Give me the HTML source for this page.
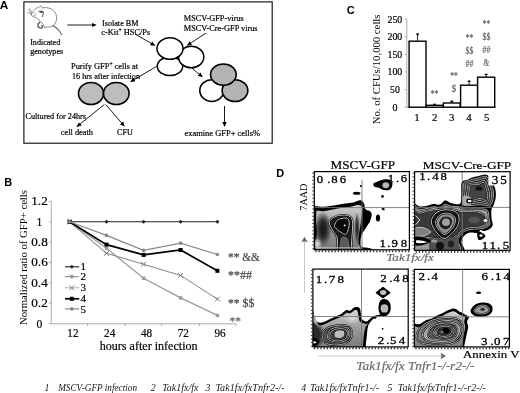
<!DOCTYPE html>
<html><head><meta charset="utf-8"><style>
html,body{margin:0;padding:0;background:#fff;}
svg{display:block;filter:grayscale(1);}
</style></head><body>
<svg width="520" height="393" viewBox="0 0 520 393">
<defs>
<marker id="ah" markerWidth="6" markerHeight="6" refX="4" refY="3" orient="auto" markerUnits="userSpaceOnUse"><path d="M0,0.8 L5,3 L0,5.2 Z" fill="#000"/></marker>
<marker id="ahg" markerWidth="8" markerHeight="8" refX="5" refY="4" orient="auto" markerUnits="userSpaceOnUse"><path d="M0.5,0.8 L6,4 L0.5,7.2 L1.5,4 Z" fill="#666"/></marker>
</defs>
<rect width="520" height="393" fill="#fff"/>
<text x="-0.3" y="8.8" font-family="Liberation Sans" font-size="11.8" fill="#000" font-weight="bold" >A</text>
<rect x="23.9" y="1.9" width="248.3" height="141.3" fill="none" stroke="#111" stroke-width="1.15"/>
<g fill="none" stroke="#7a7a7a" stroke-width="0.9" stroke-linecap="round" stroke-linejoin="round">
<path d="M31.5 14.2 C32.5 11.5 34.5 9 37.5 7.6 C39 7 40 6.6 41 5.8 C41.6 6.4 42 7.3 42.5 8 C45.5 7.2 49.5 7.6 52.5 9.6 C55.6 11.8 57 15.5 56.6 19.4 C56.2 22.3 54.6 24.3 53.2 25.6 C50.5 27.2 47.5 27.6 44.6 27.2"/>
<path d="M31.5 14.2 C31 15.4 32 16.6 33.5 16.7 C35.5 17 37 18.4 38.5 19.6 C40.2 21 41.6 22.6 43.2 24.2 C44 25.2 44.5 26.4 44.6 27.2"/>
<path d="M39 11.8 C40.4 10.8 42.6 10.8 43.3 12.2 C43.8 13.6 42.8 15 42.2 16.6" stroke="#666" stroke-width="1.1"/><path d="M40.5 12 L42.2 12.4" stroke="#444" stroke-width="1.3"/><path d="M34.2 13.2 L35.4 13" stroke="#999" stroke-width="0.8"/>
<path d="M39.6 22.4 C38.2 23.2 37.8 25.2 38.2 26.6 C38.8 28 40.6 28.4 42 27.8 C43 27.2 42.6 26.2 41.8 25.6" stroke="#555" stroke-width="1.4"/>
<path d="M53.2 25.6 C56 27.2 58.5 29.8 60 32 C60.8 33.2 61.3 34 61.6 34.8" stroke-width="1.3"/>
<path d="M28.5 9.5 L31.4 13.4 M27.6 12.6 L31.2 13.8 M29.8 8.6 L31.8 12.8" stroke-width="0.7"/>
<path d="M33.6 15.6 C34.6 15.8 35.4 15.4 35.8 14.8" stroke-width="0.7"/>
</g>
<text x="30.2" y="45.2" font-family="Liberation Serif" font-size="8.4" fill="#000" stroke="#000" stroke-width="0.2" textLength="30" lengthAdjust="spacingAndGlyphs" >Indicated</text>
<text x="30.2" y="54.1" font-family="Liberation Serif" font-size="8.4" fill="#000" stroke="#000" stroke-width="0.2" textLength="33" lengthAdjust="spacingAndGlyphs" >genotypes</text>
<line x1="67.3" y1="25" x2="95.5" y2="25" stroke="#000" stroke-width="0.9" marker-end="url(#ah)" />
<text x="102" y="25.8" font-family="Liberation Serif" font-size="8.4" fill="#000" stroke="#000" stroke-width="0.2" textLength="36.5" lengthAdjust="spacingAndGlyphs" >Isolate BM</text>
<text x="101.3" y="34.8" font-family="Liberation Serif" font-size="8.4" stroke="#000" stroke-width="0.2">c-Kit<tspan font-size="5.5" dy="-3">+</tspan><tspan dy="3"> HSC/Ps</tspan></text>
<text x="183.8" y="21.1" font-family="Liberation Serif" font-size="8.4" fill="#000" stroke="#000" stroke-width="0.2" textLength="60" lengthAdjust="spacingAndGlyphs" >MSCV-GFP-virus</text>
<text x="183.8" y="30.8" font-family="Liberation Serif" font-size="8.4" fill="#000" stroke="#000" stroke-width="0.2" textLength="73.8" lengthAdjust="spacingAndGlyphs" >MSCV-Cre-GFP virus</text>
<line x1="135" y1="34" x2="154.5" y2="45.3" stroke="#000" stroke-width="0.9" marker-end="url(#ah)" />
<line x1="206" y1="33" x2="187.5" y2="45.2" stroke="#000" stroke-width="0.9" marker-end="url(#ah)" />
<ellipse cx="170" cy="66.2" rx="12.7" ry="9.4" fill="#fff" stroke="#000" stroke-width="1.5"/>
<ellipse cx="191.2" cy="57" rx="12.6" ry="10.8" fill="#fff" stroke="#000" stroke-width="1.5"/>
<ellipse cx="170" cy="48.5" rx="13" ry="10.8" fill="#fff" stroke="#000" stroke-width="1.5"/>
<line x1="191.5" y1="67.7" x2="202" y2="76.7" stroke="#000" stroke-width="0.9" marker-end="url(#ah)" />
<line x1="157.5" y1="65.8" x2="131" y2="81.5" stroke="#000" stroke-width="0.9" marker-end="url(#ah)" />
<text x="71" y="69.1" font-family="Liberation Serif" font-size="8.4" stroke="#000" stroke-width="0.2">Purify GFP<tspan font-size="5.5" dy="-3">+</tspan><tspan dy="3"> cells at</tspan></text>
<text x="72" y="78.5" font-family="Liberation Serif" font-size="8.4" fill="#000" stroke="#000" stroke-width="0.2" textLength="68" lengthAdjust="spacingAndGlyphs" >16 hrs after infection</text>
<ellipse cx="91" cy="93.5" rx="12.5" ry="11" fill="#bdbdbd" stroke="#000" stroke-width="1.6"/>
<ellipse cx="116.3" cy="93.5" rx="12.8" ry="11" fill="#bdbdbd" stroke="#000" stroke-width="1.6"/>
<line x1="104.4" y1="104.5" x2="77.2" y2="126.4" stroke="#000" stroke-width="0.9" marker-end="url(#ah)" />
<line x1="105.8" y1="104.5" x2="124" y2="125.8" stroke="#000" stroke-width="0.9" marker-end="url(#ah)" />
<text x="25.5" y="118.8" font-family="Liberation Serif" font-size="8.4" fill="#000" stroke="#000" stroke-width="0.2" textLength="60.5" lengthAdjust="spacingAndGlyphs" >Cultured for 24hrs</text>
<text x="60.8" y="134.8" font-family="Liberation Serif" font-size="8.4" fill="#000" stroke="#000" stroke-width="0.2" textLength="32.2" lengthAdjust="spacingAndGlyphs" >cell death</text>
<text x="117" y="134.8" font-family="Liberation Serif" font-size="8.4" fill="#000" stroke="#000" stroke-width="0.2" textLength="15.8" lengthAdjust="spacingAndGlyphs" >CFU</text>
<ellipse cx="211.8" cy="90.6" rx="12" ry="10.85" fill="#fff" stroke="#000" stroke-width="1.6"/>
<ellipse cx="235" cy="90.6" rx="12.85" ry="10.85" fill="#b3b3b3" stroke="#000" stroke-width="1.6"/>
<ellipse cx="223.4" cy="74.6" rx="12.85" ry="10.6" fill="#b3b3b3" stroke="#000" stroke-width="1.6"/>
<line x1="224.5" y1="106" x2="224.5" y2="126" stroke="#000" stroke-width="0.9" marker-end="url(#ah)" />
<text x="184.5" y="135.8" font-family="Liberation Serif" font-size="8.4" fill="#000" stroke="#000" stroke-width="0.2" textLength="75.5" lengthAdjust="spacingAndGlyphs" >examine  GFP+ cells%</text>
<text x="346.7" y="13.5" font-family="Liberation Sans" font-size="11" fill="#000" font-weight="bold" >C</text>
<line x1="406.8" y1="19" x2="406.8" y2="107.2" stroke="#999" stroke-width="0.8"/>
<line x1="406.8" y1="107.2" x2="496" y2="107.2" stroke="#888" stroke-width="0.9"/>
<line x1="404.6" y1="107.2" x2="406.8" y2="107.2" stroke="#999" stroke-width="0.8"/>
<text x="394.9" y="110.7" font-family="Liberation Serif" font-size="10.4" fill="#000" stroke="#000" stroke-width="0.2" text-anchor="middle" textLength="5" lengthAdjust="spacingAndGlyphs" >0</text>
<line x1="404.6" y1="89.6" x2="406.8" y2="89.6" stroke="#999" stroke-width="0.8"/>
<text x="394.9" y="93.1" font-family="Liberation Serif" font-size="10.4" fill="#000" stroke="#000" stroke-width="0.2" text-anchor="middle" textLength="9.8" lengthAdjust="spacingAndGlyphs" >50</text>
<line x1="404.6" y1="71.9" x2="406.8" y2="71.9" stroke="#999" stroke-width="0.8"/>
<text x="394.9" y="75.4" font-family="Liberation Serif" font-size="10.4" fill="#000" stroke="#000" stroke-width="0.2" text-anchor="middle" textLength="14.9" lengthAdjust="spacingAndGlyphs" >100</text>
<line x1="404.6" y1="54.3" x2="406.8" y2="54.3" stroke="#999" stroke-width="0.8"/>
<text x="394.9" y="57.8" font-family="Liberation Serif" font-size="10.4" fill="#000" stroke="#000" stroke-width="0.2" text-anchor="middle" textLength="14.9" lengthAdjust="spacingAndGlyphs" >150</text>
<line x1="404.6" y1="36.6" x2="406.8" y2="36.6" stroke="#999" stroke-width="0.8"/>
<text x="394.9" y="40.1" font-family="Liberation Serif" font-size="10.4" fill="#000" stroke="#000" stroke-width="0.2" text-anchor="middle" textLength="14.9" lengthAdjust="spacingAndGlyphs" >200</text>
<line x1="404.6" y1="19.0" x2="406.8" y2="19.0" stroke="#999" stroke-width="0.8"/>
<text x="394.9" y="22.5" font-family="Liberation Serif" font-size="10.4" fill="#000" stroke="#000" stroke-width="0.2" text-anchor="middle" textLength="14.9" lengthAdjust="spacingAndGlyphs" >250</text>
<line x1="417.6" y1="34.1" x2="417.6" y2="41.2" stroke="#000" stroke-width="0.9"/>
<line x1="416.2" y1="34.1" x2="418.9" y2="34.1" stroke="#000" stroke-width="1.4"/>
<rect x="409.1" y="41.2" width="16.9" height="66.0" fill="#fff" stroke="#000" stroke-width="1.4"/>
<line x1="434.5" y1="104.4" x2="434.5" y2="105.3" stroke="#000" stroke-width="0.9"/>
<line x1="433.1" y1="104.4" x2="435.9" y2="104.4" stroke="#000" stroke-width="1.4"/>
<rect x="426" y="105.3" width="17.0" height="1.9" fill="#fff" stroke="#000" stroke-width="1.4"/>
<line x1="451.8" y1="101.3" x2="451.8" y2="103.0" stroke="#000" stroke-width="0.9"/>
<line x1="450.4" y1="101.3" x2="453.2" y2="101.3" stroke="#000" stroke-width="1.4"/>
<rect x="443.4" y="103.0" width="16.8" height="4.2" fill="#fff" stroke="#000" stroke-width="1.4"/>
<line x1="469.1" y1="81.2" x2="469.1" y2="85.2" stroke="#000" stroke-width="0.9"/>
<line x1="467.7" y1="81.2" x2="470.5" y2="81.2" stroke="#000" stroke-width="1.4"/>
<rect x="460.6" y="85.2" width="17.0" height="22.0" fill="#fff" stroke="#000" stroke-width="1.4"/>
<line x1="486.1" y1="74.4" x2="486.1" y2="77.2" stroke="#000" stroke-width="0.9"/>
<line x1="484.8" y1="74.4" x2="487.5" y2="74.4" stroke="#000" stroke-width="1.4"/>
<rect x="477.6" y="77.2" width="17.1" height="30.0" fill="#fff" stroke="#000" stroke-width="1.4"/>
<text x="416.9" y="120.6" font-family="Liberation Serif" font-size="10.8" fill="#000" stroke="#000" stroke-width="0.2" text-anchor="middle" >1</text>
<text x="434.6" y="120.6" font-family="Liberation Serif" font-size="10.8" fill="#000" stroke="#000" stroke-width="0.2" text-anchor="middle" >2</text>
<text x="451.6" y="120.6" font-family="Liberation Serif" font-size="10.8" fill="#000" stroke="#000" stroke-width="0.2" text-anchor="middle" >3</text>
<text x="468.9" y="120.6" font-family="Liberation Serif" font-size="10.8" fill="#000" stroke="#000" stroke-width="0.2" text-anchor="middle" >4</text>
<text x="486.8" y="120.6" font-family="Liberation Serif" font-size="10.8" fill="#000" stroke="#000" stroke-width="0.2" text-anchor="middle" >5</text>
<text transform="translate(380.3,69.4) rotate(-90)" font-family="Liberation Serif" font-size="10.4" text-anchor="middle" textLength="109.8" lengthAdjust="spacingAndGlyphs">No. of CFUs/10,000 cells</text>
<text x="430.8" y="97.4" font-family="Liberation Serif" font-size="10" fill="#666" stroke="#666" stroke-width="0.2" textLength="7.6" lengthAdjust="spacingAndGlyphs" >**</text>
<text x="450.2" y="79.10000000000001" font-family="Liberation Serif" font-size="10" fill="#666" stroke="#666" stroke-width="0.2" textLength="7.6" lengthAdjust="spacingAndGlyphs" >**</text>
<text x="451.8" y="92.2" font-family="Liberation Serif" font-size="10" fill="#666" stroke="#666" stroke-width="0.2" textLength="4.4" lengthAdjust="spacingAndGlyphs" >$</text>
<text x="465.7" y="41.1" font-family="Liberation Serif" font-size="10" fill="#666" stroke="#666" stroke-width="0.2" textLength="7.6" lengthAdjust="spacingAndGlyphs" >**</text>
<text x="465.6" y="54.0" font-family="Liberation Serif" font-size="10" fill="#666" stroke="#666" stroke-width="0.2" textLength="7.8" lengthAdjust="spacingAndGlyphs" >$$</text>
<text x="465.6" y="66.7" font-family="Liberation Serif" font-size="10" fill="#666" stroke="#666" stroke-width="0.2" textLength="7.8" lengthAdjust="spacingAndGlyphs" >##</text>
<text x="482.6" y="27.299999999999997" font-family="Liberation Serif" font-size="10" fill="#666" stroke="#666" stroke-width="0.2" textLength="7.6" lengthAdjust="spacingAndGlyphs" >**</text>
<text x="482.5" y="39.9" font-family="Liberation Serif" font-size="10" fill="#666" stroke="#666" stroke-width="0.2" textLength="7.8" lengthAdjust="spacingAndGlyphs" >$$</text>
<text x="482.5" y="53.1" font-family="Liberation Serif" font-size="10" fill="#666" stroke="#666" stroke-width="0.2" textLength="7.8" lengthAdjust="spacingAndGlyphs" >##</text>
<text x="483.6" y="66.4" font-family="Liberation Serif" font-size="10" fill="#666" stroke="#666" stroke-width="0.2" textLength="5.8" lengthAdjust="spacingAndGlyphs" >&amp;</text>
<text x="4.2" y="186.3" font-family="Liberation Sans" font-size="11" fill="#000" font-weight="bold" >B</text>
<line x1="51.3" y1="201.4" x2="51.3" y2="323.8" stroke="#999" stroke-width="0.8"/>
<line x1="51.3" y1="323.8" x2="236" y2="323.8" stroke="#999" stroke-width="0.8"/>
<line x1="48.8" y1="323.5" x2="51.3" y2="323.5" stroke="#999" stroke-width="0.8"/>
<text x="39.5" y="327.5" font-family="Liberation Serif" font-size="12" fill="#000" stroke="#000" stroke-width="0.2" text-anchor="middle" textLength="5.8" lengthAdjust="spacingAndGlyphs" >0</text>
<line x1="48.8" y1="303.1" x2="51.3" y2="303.1" stroke="#999" stroke-width="0.8"/>
<text x="39.5" y="307.1" font-family="Liberation Serif" font-size="12" fill="#000" stroke="#000" stroke-width="0.2" text-anchor="middle" textLength="16.4" lengthAdjust="spacingAndGlyphs" >0.2</text>
<line x1="48.8" y1="282.8" x2="51.3" y2="282.8" stroke="#999" stroke-width="0.8"/>
<text x="39.5" y="286.8" font-family="Liberation Serif" font-size="12" fill="#000" stroke="#000" stroke-width="0.2" text-anchor="middle" textLength="16.4" lengthAdjust="spacingAndGlyphs" >0.4</text>
<line x1="48.8" y1="262.4" x2="51.3" y2="262.4" stroke="#999" stroke-width="0.8"/>
<text x="39.5" y="266.4" font-family="Liberation Serif" font-size="12" fill="#000" stroke="#000" stroke-width="0.2" text-anchor="middle" textLength="16.4" lengthAdjust="spacingAndGlyphs" >0.6</text>
<line x1="48.8" y1="242.1" x2="51.3" y2="242.1" stroke="#999" stroke-width="0.8"/>
<text x="39.5" y="246.1" font-family="Liberation Serif" font-size="12" fill="#000" stroke="#000" stroke-width="0.2" text-anchor="middle" textLength="16.4" lengthAdjust="spacingAndGlyphs" >0.8</text>
<line x1="48.8" y1="221.8" x2="51.3" y2="221.8" stroke="#999" stroke-width="0.8"/>
<text x="39.5" y="225.8" font-family="Liberation Serif" font-size="12" fill="#000" stroke="#000" stroke-width="0.2" text-anchor="middle" textLength="5.8" lengthAdjust="spacingAndGlyphs" >1</text>
<line x1="48.8" y1="201.4" x2="51.3" y2="201.4" stroke="#999" stroke-width="0.8"/>
<text x="39.5" y="205.4" font-family="Liberation Serif" font-size="12" fill="#000" stroke="#000" stroke-width="0.2" text-anchor="middle" textLength="16.4" lengthAdjust="spacingAndGlyphs" >1.2</text>
<line x1="87.7" y1="323.8" x2="87.7" y2="326" stroke="#999" stroke-width="0.8"/>
<line x1="125.2" y1="323.8" x2="125.2" y2="326" stroke="#999" stroke-width="0.8"/>
<line x1="161.7" y1="323.8" x2="161.7" y2="326" stroke="#999" stroke-width="0.8"/>
<line x1="199.4" y1="323.8" x2="199.4" y2="326" stroke="#999" stroke-width="0.8"/>
<line x1="236" y1="323.8" x2="236" y2="326" stroke="#999" stroke-width="0.8"/>
<text x="72.9" y="336.9" font-family="Liberation Serif" font-size="12.4" fill="#000" stroke="#000" stroke-width="0.2" text-anchor="middle" textLength="11.2" lengthAdjust="spacingAndGlyphs" >12</text>
<text x="109.7" y="336.9" font-family="Liberation Serif" font-size="12.4" fill="#000" stroke="#000" stroke-width="0.2" text-anchor="middle" textLength="11.2" lengthAdjust="spacingAndGlyphs" >24</text>
<text x="146.5" y="336.9" font-family="Liberation Serif" font-size="12.4" fill="#000" stroke="#000" stroke-width="0.2" text-anchor="middle" textLength="11.2" lengthAdjust="spacingAndGlyphs" >48</text>
<text x="183.3" y="336.9" font-family="Liberation Serif" font-size="12.4" fill="#000" stroke="#000" stroke-width="0.2" text-anchor="middle" textLength="11.2" lengthAdjust="spacingAndGlyphs" >72</text>
<text x="220.1" y="336.9" font-family="Liberation Serif" font-size="12.4" fill="#000" stroke="#000" stroke-width="0.2" text-anchor="middle" textLength="11.2" lengthAdjust="spacingAndGlyphs" >96</text>
<text x="99.7" y="350.1" font-family="Liberation Serif" font-size="12.5" fill="#000" stroke="#000" stroke-width="0.2" textLength="97.9" lengthAdjust="spacingAndGlyphs" >hours after infection</text>
<text transform="translate(26.5,257.5) rotate(-90)" font-family="Liberation Serif" font-size="9.4" text-anchor="middle" textLength="135" lengthAdjust="spacingAndGlyphs">Normalized ratio of GFP+ cells</text>
<polyline points="69.6,221.8 106.5,221.8 143.6,221.8 180.6,221.8 217.4,221.8" fill="none" stroke="#222" stroke-width="1.1"/>
<path d="M69.6 219.8L71.6 221.8L69.6 223.8L67.6 221.8Z" fill="#222"/>
<path d="M106.5 219.8L108.5 221.8L106.5 223.8L104.5 221.8Z" fill="#222"/>
<path d="M143.6 219.8L145.6 221.8L143.6 223.8L141.6 221.8Z" fill="#222"/>
<path d="M180.6 219.8L182.6 221.8L180.6 223.8L178.6 221.8Z" fill="#222"/>
<path d="M217.4 219.8L219.4 221.8L217.4 223.8L215.4 221.8Z" fill="#222"/>
<polyline points="69.6,221.8 106.5,248.2 143.6,278.2 180.6,297.9 217.4,315.4" fill="none" stroke="#999" stroke-width="1.2"/>
<rect x="67.89999999999999" y="220.10000000000002" width="3.4" height="3.4" fill="#999"/>
<rect x="104.8" y="246.5" width="3.4" height="3.4" fill="#999"/>
<rect x="141.9" y="276.5" width="3.4" height="3.4" fill="#999"/>
<rect x="178.9" y="296.2" width="3.4" height="3.4" fill="#999"/>
<rect x="215.70000000000002" y="313.7" width="3.4" height="3.4" fill="#999"/>
<polyline points="69.6,221.8 106.5,253.3 143.6,264.2 180.6,275.4 217.4,299.1" fill="none" stroke="#8c8c8c" stroke-width="1.1"/>
<path d="M67.19999999999999 219.4L72.0 224.20000000000002M67.19999999999999 224.20000000000002L72.0 219.4" stroke="#777" stroke-width="1"/>
<path d="M104.1 250.9L108.9 255.70000000000002M104.1 255.70000000000002L108.9 250.9" stroke="#777" stroke-width="1"/>
<path d="M141.2 261.8L146.0 266.59999999999997M141.2 266.59999999999997L146.0 261.8" stroke="#777" stroke-width="1"/>
<path d="M178.2 273.0L183.0 277.79999999999995M178.2 277.79999999999995L183.0 273.0" stroke="#777" stroke-width="1"/>
<path d="M215.0 296.70000000000005L219.8 301.5M215.0 301.5L219.8 296.70000000000005" stroke="#777" stroke-width="1"/>
<polyline points="69.6,221.8 106.5,244.6 143.6,254.9 180.6,250.0 217.4,270.8" fill="none" stroke="#000" stroke-width="1.7"/>
<rect x="67.6" y="219.8" width="4" height="4" fill="#000"/>
<rect x="104.5" y="242.6" width="4" height="4" fill="#000"/>
<rect x="141.6" y="252.9" width="4" height="4" fill="#000"/>
<rect x="178.6" y="248.0" width="4" height="4" fill="#000"/>
<rect x="215.4" y="268.8" width="4" height="4" fill="#000"/>
<polyline points="69.6,221.8 106.5,235.4 143.6,250.4 180.6,243.1 217.4,254.5" fill="none" stroke="#888" stroke-width="1.2"/>
<circle cx="69.6" cy="221.8" r="1.8" fill="#888"/>
<circle cx="106.5" cy="235.4" r="1.8" fill="#888"/>
<circle cx="143.6" cy="250.4" r="1.8" fill="#888"/>
<circle cx="180.6" cy="243.1" r="1.8" fill="#888"/>
<circle cx="217.4" cy="254.5" r="1.8" fill="#888"/>
<line x1="65" y1="266.8" x2="79.2" y2="266.8" stroke="#222" stroke-width="1.1"/>
<path d="M71.8 264.8L73.8 266.8L71.8 268.8L69.8 266.8Z" fill="#222"/>
<text x="80.4" y="270.4" font-family="Liberation Serif" font-size="11" fill="#000" stroke="#000" stroke-width="0.2" >1</text>
<line x1="65" y1="276.6" x2="79.2" y2="276.6" stroke="#999" stroke-width="1.2"/>
<rect x="70.1" y="274.90000000000003" width="3.4" height="3.4" fill="#999"/>
<text x="80.4" y="280.2" font-family="Liberation Serif" font-size="11" fill="#000" stroke="#000" stroke-width="0.2" >2</text>
<line x1="65" y1="287.8" x2="79.2" y2="287.8" stroke="#8c8c8c" stroke-width="1.1" stroke-dasharray="2,1.2"/>
<path d="M69.39999999999999 285.40000000000003L74.2 290.2M69.39999999999999 290.2L74.2 285.40000000000003" stroke="#777" stroke-width="1"/>
<text x="80.4" y="291.4" font-family="Liberation Serif" font-size="11" fill="#000" stroke="#000" stroke-width="0.2" >3</text>
<line x1="65" y1="298.8" x2="79.2" y2="298.8" stroke="#000" stroke-width="1.7"/>
<rect x="69.8" y="296.8" width="4" height="4" fill="#000"/>
<text x="80.4" y="302.4" font-family="Liberation Serif" font-size="11" fill="#000" stroke="#000" stroke-width="0.2" >4</text>
<line x1="65" y1="308.9" x2="79.2" y2="308.9" stroke="#888" stroke-width="1.2"/>
<circle cx="71.8" cy="308.9" r="1.8" fill="#888"/>
<text x="80.4" y="312.5" font-family="Liberation Serif" font-size="11" fill="#000" stroke="#000" stroke-width="0.2" >5</text>
<text x="228" y="260.6" font-family="Liberation Serif" font-size="12.6" fill="#444" stroke="#444" stroke-width="0.2" textLength="32" lengthAdjust="spacingAndGlyphs" >** &amp;&amp;</text>
<text x="228" y="279.3" font-family="Liberation Serif" font-size="12.6" fill="#444" stroke="#444" stroke-width="0.2" textLength="24" lengthAdjust="spacingAndGlyphs" >**##</text>
<text x="228" y="306.8" font-family="Liberation Serif" font-size="12.6" fill="#444" stroke="#444" stroke-width="0.2" textLength="26.3" lengthAdjust="spacingAndGlyphs" >** $$</text>
<text x="229.6" y="325.2" font-family="Liberation Serif" font-size="12.6" fill="#666" stroke="#666" stroke-width="0.2" textLength="11.4" lengthAdjust="spacingAndGlyphs" >**</text>
<text x="276.3" y="177" font-family="Liberation Sans" font-size="11" fill="#000" font-weight="bold" >D</text>
<text x="330.6" y="168.5" font-family="Liberation Serif" font-size="11.6" fill="#000" stroke="#000" stroke-width="0.2" textLength="64.4" lengthAdjust="spacingAndGlyphs" >MSCV-GFP</text>
<text x="422.7" y="168.8" font-family="Liberation Serif" font-size="11" fill="#000" stroke="#000" stroke-width="0.2" textLength="88.5" lengthAdjust="spacingAndGlyphs" >MSCV-Cre-GFP</text>
<text transform="translate(306.6,210.7) rotate(-90)" font-family="Liberation Serif" font-size="10.9" textLength="27.1" lengthAdjust="spacingAndGlyphs">7AAD</text>
<text x="386.3" y="260.7" font-family="Liberation Serif" font-size="11.3" fill="#6a6a6a" stroke="#6a6a6a" stroke-width="0.2" textLength="47.4" lengthAdjust="spacingAndGlyphs" font-style="italic" >Tak1fx/fx</text>
<text x="356.3" y="369.5" font-family="Liberation Serif" font-size="12" fill="#6a6a6a" stroke="#6a6a6a" stroke-width="0.2" textLength="118.2" lengthAdjust="spacingAndGlyphs" font-style="italic" >Tak1fx/fx Tnfr1-/-r2-/-</text>
<text x="463.1" y="358.1" font-family="Liberation Serif" font-size="11.3" fill="#000" stroke="#000" stroke-width="0.2" textLength="56.3" lengthAdjust="spacingAndGlyphs" >Annexin V</text>
<line x1="304.5" y1="293" x2="304.5" y2="237.8" stroke="#c8c8c8" stroke-width="1" marker-end="url(#ahg)"/>
<line x1="318.4" y1="356" x2="445" y2="356" stroke="#c8c8c8" stroke-width="1" marker-end="url(#ahg)"/>
<defs>
<clipPath id="c0"><rect x="314.3" y="171.6" width="95.1" height="78.2"/></clipPath>
<clipPath id="c1"><rect x="414.6" y="171.7" width="95.5" height="78.6"/></clipPath>
<clipPath id="c2"><rect x="312.9" y="269.1" width="95.3" height="77.8"/></clipPath>
<clipPath id="c3"><rect x="414.3" y="269.4" width="95.1" height="77.5"/></clipPath>
<radialGradient id="dk" cx="0.5" cy="0.5" r="0.5"><stop offset="0" stop-color="#1a1a1a"/><stop offset="0.6" stop-color="#1a1a1a" stop-opacity="0.6"/><stop offset="1" stop-color="#1a1a1a" stop-opacity="0"/></radialGradient>
<radialGradient id="lt" cx="0.5" cy="0.5" r="0.5"><stop offset="0" stop-color="#e0e0e0"/><stop offset="0.6" stop-color="#d0d0d0" stop-opacity="0.6"/><stop offset="1" stop-color="#d0d0d0" stop-opacity="0"/></radialGradient>
<linearGradient id="topl" x1="0" y1="0" x2="0" y2="1"><stop offset="0" stop-color="#d4d4d4"/><stop offset="0.35" stop-color="#a0a0a0"/><stop offset="1" stop-color="#707070"/></linearGradient>

</defs>
<g clip-path="url(#c0)">
<path d="M312.0,206.6 C312.7,199.0 314.2,206.2 316.0,206.2 C317.8,206.2 320.2,206.9 322.8,206.8 C325.4,206.7 328.2,206.3 331.4,205.8 C334.6,205.3 338.5,204.5 342.1,204.0 C345.7,203.5 350.5,203.0 352.8,202.6 C355.1,202.2 354.6,201.8 356.0,201.4 C357.4,201.0 359.9,200.1 361.2,200.4 C362.5,200.7 363.3,202.0 364.0,203.4 C364.7,204.8 364.5,207.7 365.4,209.0 C366.3,210.3 368.6,210.3 369.6,211.1 C370.7,211.9 371.5,212.8 371.7,213.9 C371.9,215.1 371.4,216.6 371.0,218.0 C370.6,219.4 370.3,220.9 369.6,222.3 C368.9,223.7 367.7,225.1 366.8,226.5 C365.9,227.9 364.8,229.5 364.0,230.7 C363.2,231.9 362.7,232.4 362.2,233.5 C361.7,234.6 361.3,235.5 361.0,237.0 C360.7,238.5 360.5,241.0 360.5,242.6 C360.5,244.2 360.4,245.9 361.2,246.7 C362.0,247.5 363.5,247.2 365.4,247.6 C367.3,248.0 370.6,248.3 372.4,249.0 C374.2,249.7 386.1,251.5 376.0,252.0 C365.9,252.5 322.7,259.6 312.0,252.0 C301.3,244.4 311.3,214.2 312.0,206.6Z" fill="#000"/>
<path d="M312.0,210.8 C312.7,203.9 314.2,210.5 316.0,210.6 C317.8,210.7 320.2,211.3 322.8,211.2 C325.4,211.1 328.2,210.4 331.4,209.8 C334.6,209.2 338.5,208.4 342.1,207.8 C345.7,207.2 350.3,206.7 352.8,206.2 C355.3,205.7 355.7,205.1 357.0,205.0 C358.3,204.9 359.7,204.9 360.6,205.6 C361.5,206.3 362.0,207.4 362.2,209.0 C362.4,210.6 362.2,212.8 362.0,215.0 C361.8,217.2 361.4,219.7 361.0,222.0 C360.6,224.3 360.2,226.7 359.8,229.0 C359.4,231.3 359.0,233.7 358.8,236.0 C358.6,238.3 358.4,240.3 358.4,243.0 C358.4,245.7 366.3,250.5 358.6,252.0 C350.9,253.5 319.8,258.9 312.0,252.0 C304.2,245.1 311.3,217.7 312.0,210.8Z" fill="url(#topl)"/>
<ellipse cx="323" cy="229" rx="9" ry="18" fill="url(#dk)"/>
<ellipse cx="323" cy="229" rx="5" ry="12" fill="url(#dk)"/>
<path d="M313 209 L316.4 210 L316 220 L316.8 232 L315.8 244 L316.5 252 L313 252 Z" fill="#000"/>
<ellipse cx="357" cy="228" rx="2.5" ry="16" fill="url(#dk)"/>
<ellipse cx="317" cy="244" rx="5" ry="6" fill="url(#lt)"/>
<path d="M338.5,253.0 C336.2,250.6 338.1,241.9 337.3,238.3 C336.5,234.7 334.8,233.9 333.5,231.5 C332.2,229.1 329.9,226.0 329.5,224.0 C329.1,222.0 330.1,220.7 331.0,219.5 C331.9,218.3 333.6,217.5 335.0,216.8 C336.4,216.1 337.5,215.6 339.6,215.4 C341.7,215.2 345.3,214.8 347.4,215.4 C349.4,216.0 351.0,217.1 351.9,219.0 C352.8,220.9 352.6,224.2 352.6,227.0 C352.6,229.8 352.2,233.2 352.0,236.0 C351.8,238.8 351.6,241.2 351.4,244.0 C351.2,246.8 353.1,251.5 351.0,253.0 C348.9,254.5 340.8,255.4 338.5,253.0Z" fill="#1c1c1c" stroke="#000" stroke-width="2.00" />
<path d="M338.5,253.0 C336.2,250.6 338.1,241.9 337.3,238.3 C336.5,234.7 334.8,233.9 333.5,231.5 C332.2,229.1 329.9,226.0 329.5,224.0 C329.1,222.0 330.1,220.7 331.0,219.5 C331.9,218.3 333.6,217.5 335.0,216.8 C336.4,216.1 337.5,215.6 339.6,215.4 C341.7,215.2 345.3,214.8 347.4,215.4 C349.4,216.0 351.0,217.1 351.9,219.0 C352.8,220.9 352.6,224.2 352.6,227.0 C352.6,229.8 352.2,233.2 352.0,236.0 C351.8,238.8 351.6,241.2 351.4,244.0 C351.2,246.8 353.1,251.5 351.0,253.0 C348.9,254.5 340.8,255.4 338.5,253.0Z" fill="none" stroke="#fff" stroke-width="0.77"/>
<path d="M340.5,253.0 C339.1,251.3 340.2,245.6 340.5,243.0 C340.8,240.4 341.1,238.4 342.0,237.5 C342.9,236.6 344.9,236.8 346.0,237.5 C347.1,238.2 348.0,239.4 348.5,242.0 C349.0,244.6 350.1,251.2 348.8,253.0 C347.5,254.8 341.9,254.7 340.5,253.0Z" fill="#5a5a5a" stroke="#999" stroke-width="0.5" />
<path d="M334.5,225.4 C334.7,224.0 336.1,221.5 337.3,220.3 C338.5,219.1 340.1,218.7 341.8,218.4 C343.5,218.1 346.1,217.7 347.4,218.4 C348.6,219.1 349.1,221.0 349.3,222.6 C349.5,224.2 349.0,226.4 348.6,228.2 C348.2,230.0 347.6,232.2 346.9,233.2 C346.2,234.2 345.4,234.4 344.6,234.4 C343.9,234.4 343.2,233.7 342.4,233.2 C341.6,232.7 340.6,232.2 339.6,231.5 C338.6,230.8 337.1,229.7 336.2,228.7 C335.3,227.7 334.3,226.8 334.5,225.4Z" fill="#0a0a0a" stroke="#000" stroke-width="2.00" />
<path d="M334.5,225.4 C334.7,224.0 336.1,221.5 337.3,220.3 C338.5,219.1 340.1,218.7 341.8,218.4 C343.5,218.1 346.1,217.7 347.4,218.4 C348.6,219.1 349.1,221.0 349.3,222.6 C349.5,224.2 349.0,226.4 348.6,228.2 C348.2,230.0 347.6,232.2 346.9,233.2 C346.2,234.2 345.4,234.4 344.6,234.4 C343.9,234.4 343.2,233.7 342.4,233.2 C341.6,232.7 340.6,232.2 339.6,231.5 C338.6,230.8 337.1,229.7 336.2,228.7 C335.3,227.7 334.3,226.8 334.5,225.4Z" fill="none" stroke="#fff" stroke-width="0.77"/>
<line x1="314.3" y1="247.8" x2="360" y2="247.8" stroke="#ddd" stroke-width="0.7"/>
<circle cx="344.6" cy="225.4" r="0.9" fill="#fff"/>
<path d="M373.5,183.6 C374.0,182.8 375.8,182.4 377.0,181.8 C378.2,181.2 379.6,180.6 381.0,180.2 C382.4,179.8 384.1,179.4 385.5,179.3 C386.9,179.2 388.5,179.3 389.6,179.8 C390.7,180.3 391.9,181.4 392.3,182.5 C392.7,183.6 392.4,185.2 392.0,186.4 C391.6,187.6 390.8,188.8 389.8,189.4 C388.8,190.0 387.3,190.2 386.0,190.2 C384.7,190.2 383.2,189.8 382.0,189.4 C380.8,189.0 379.8,188.1 378.5,187.6 C377.2,187.1 375.0,187.1 374.2,186.4 C373.4,185.7 373.0,184.4 373.5,183.6Z" fill="#000"/>
<ellipse cx="385.8" cy="185.2" rx="3.4" ry="3" fill="#b8b8b8"/>
<ellipse cx="356.7" cy="193.3" rx="3.8" ry="1.5" fill="#000"/>
<circle cx="361" cy="186.1" r="1.1" fill="#000"/>
<circle cx="382.5" cy="196.4" r="1.3" fill="#000"/>
<ellipse cx="383.2" cy="209" rx="1.7" ry="1.2" fill="#000" transform="rotate(30 383.2 209)"/>
<ellipse cx="378" cy="218" rx="2.1" ry="3.5" fill="#000"/>
</g>
<g clip-path="url(#c1)">
<path d="M412.0,204.6 C412.7,196.5 414.7,204.1 416.0,204.4 C417.3,204.7 417.9,206.1 419.6,206.4 C421.3,206.7 423.7,206.4 426.0,206.0 C428.3,205.6 431.2,204.2 433.5,204.0 C435.8,203.8 438.1,205.2 440.0,204.6 C441.9,204.0 443.3,201.1 444.6,200.6 C445.9,200.1 446.8,201.0 448.0,201.4 C449.2,201.8 449.8,202.8 451.7,203.2 C453.6,203.6 457.9,204.7 459.5,204.0 C461.1,203.3 460.9,202.0 461.2,199.0 C461.5,196.0 461.0,189.0 461.2,186.0 C461.4,183.0 461.6,182.2 462.6,181.2 C463.6,180.2 465.4,180.6 467.0,180.0 C468.6,179.4 470.2,178.2 472.0,177.6 C473.8,177.0 475.4,176.6 478.0,176.2 C480.6,175.8 484.8,173.3 487.6,175.2 C490.4,177.0 493.3,183.8 494.7,187.3 C496.1,190.9 495.9,193.6 495.8,196.5 C495.7,199.4 494.5,202.3 493.8,204.6 C493.1,206.8 491.8,207.6 491.4,210.0 C491.0,212.4 491.4,216.4 491.6,218.9 C491.8,221.4 493.0,223.3 492.7,225.0 C492.4,226.7 491.0,228.0 489.6,229.0 C488.2,230.0 486.0,230.8 484.5,231.0 C483.0,231.2 481.5,229.7 480.4,230.0 C479.2,230.3 479.3,232.6 477.6,233.0 C475.9,233.4 472.3,232.0 470.0,232.5 C467.7,233.0 465.4,234.4 464.0,236.0 C462.6,237.6 461.9,239.2 461.4,242.0 C460.9,244.8 469.2,251.2 461.0,253.0 C452.8,254.8 420.2,261.1 412.0,253.0 C403.8,244.9 411.3,212.7 412.0,204.6Z" fill="#000"/>
<path d="M412.0,207.6 C413.3,200.3 417.3,209.2 419.6,209.4 C421.9,209.6 423.7,209.2 426.0,208.8 C428.3,208.4 431.2,207.0 433.5,206.8 C435.8,206.6 438.1,207.8 440.0,207.4 C441.9,207.0 443.1,204.8 445.0,204.6 C446.9,204.4 449.3,205.8 451.7,206.2 C454.1,206.6 457.4,206.5 459.5,207.0 C461.6,207.5 461.4,208.7 464.0,209.0 C466.6,209.3 471.2,208.8 475.0,209.0 C478.8,209.2 484.7,208.3 487.0,210.0 C489.3,211.7 488.6,216.5 489.0,219.0 C489.4,221.5 490.3,223.5 489.5,225.0 C488.7,226.5 486.2,227.5 484.0,228.2 C481.8,228.9 478.7,228.7 476.0,229.0 C473.3,229.3 470.3,229.3 468.0,230.0 C465.7,230.7 463.7,231.3 462.0,233.0 C460.3,234.7 458.8,236.7 458.0,240.0 C457.2,243.3 464.7,250.8 457.0,253.0 C449.3,255.2 419.5,260.6 412.0,253.0 C404.5,245.4 410.7,214.9 412.0,207.6Z" fill="#9a9a9a" stroke="#000" stroke-width="1.90" />
<path d="M412.0,207.6 C413.3,200.3 417.3,209.2 419.6,209.4 C421.9,209.6 423.7,209.2 426.0,208.8 C428.3,208.4 431.2,207.0 433.5,206.8 C435.8,206.6 438.1,207.8 440.0,207.4 C441.9,207.0 443.1,204.8 445.0,204.6 C446.9,204.4 449.3,205.8 451.7,206.2 C454.1,206.6 457.4,206.5 459.5,207.0 C461.6,207.5 461.4,208.7 464.0,209.0 C466.6,209.3 471.2,208.8 475.0,209.0 C478.8,209.2 484.7,208.3 487.0,210.0 C489.3,211.7 488.6,216.5 489.0,219.0 C489.4,221.5 490.3,223.5 489.5,225.0 C488.7,226.5 486.2,227.5 484.0,228.2 C481.8,228.9 478.7,228.7 476.0,229.0 C473.3,229.3 470.3,229.3 468.0,230.0 C465.7,230.7 463.7,231.3 462.0,233.0 C460.3,234.7 458.8,236.7 458.0,240.0 C457.2,243.3 464.7,250.8 457.0,253.0 C449.3,255.2 419.5,260.6 412.0,253.0 C404.5,245.4 410.7,214.9 412.0,207.6Z" fill="none" stroke="#fff" stroke-width="0.68"/>
<path d="M412.0,212.2 C413.3,208.2 417.3,213.4 420.0,213.2 C422.7,213.0 425.3,211.6 428.0,211.0 C430.7,210.4 433.2,210.0 436.0,209.6 C438.8,209.2 442.0,208.8 445.0,208.8 C448.0,208.8 451.3,209.1 454.0,209.6 C456.7,210.1 458.3,211.3 461.0,211.6 C463.7,211.9 466.8,211.4 470.0,211.6 C473.2,211.8 477.3,211.5 480.0,212.6 C482.7,213.7 485.0,216.1 486.0,218.0 C487.0,219.9 487.2,222.5 486.0,224.0 C484.8,225.5 482.0,226.3 479.0,227.0 C476.0,227.7 471.2,227.2 468.0,228.0 C464.8,228.8 462.7,230.2 460.0,232.0 C457.3,233.8 455.3,237.3 452.0,238.5 C448.7,239.7 444.0,239.2 440.0,239.0 C436.0,238.8 431.3,237.9 428.0,237.5 C424.7,237.1 422.7,236.6 420.0,236.5 C417.3,236.4 413.3,241.1 412.0,237.0 C410.7,232.9 410.7,216.2 412.0,212.2Z" fill="#3a3a3a" stroke="#000" stroke-width="1.90" />
<path d="M412.0,212.2 C413.3,208.2 417.3,213.4 420.0,213.2 C422.7,213.0 425.3,211.6 428.0,211.0 C430.7,210.4 433.2,210.0 436.0,209.6 C438.8,209.2 442.0,208.8 445.0,208.8 C448.0,208.8 451.3,209.1 454.0,209.6 C456.7,210.1 458.3,211.3 461.0,211.6 C463.7,211.9 466.8,211.4 470.0,211.6 C473.2,211.8 477.3,211.5 480.0,212.6 C482.7,213.7 485.0,216.1 486.0,218.0 C487.0,219.9 487.2,222.5 486.0,224.0 C484.8,225.5 482.0,226.3 479.0,227.0 C476.0,227.7 471.2,227.2 468.0,228.0 C464.8,228.8 462.7,230.2 460.0,232.0 C457.3,233.8 455.3,237.3 452.0,238.5 C448.7,239.7 444.0,239.2 440.0,239.0 C436.0,238.8 431.3,237.9 428.0,237.5 C424.7,237.1 422.7,236.6 420.0,236.5 C417.3,236.4 413.3,241.1 412.0,237.0 C410.7,232.9 410.7,216.2 412.0,212.2Z" fill="none" stroke="#fff" stroke-width="0.68"/>
<path d="M412 214.5 L416 216 L419.8 219.8 L416.5 224 L412 226.5" fill="none" stroke="#fff" stroke-width="0.8"/>
<path d="M414 228.5 C420 226 426 227.5 431 232 C427 236 420 237 414 236 Z" fill="#808080" stroke="#fff" stroke-width="0.6"/>
<path d="M429 239 C438 237.5 450 238 459 237 L459 252 L429 252 Z" fill="#505050"/>
<ellipse cx="440" cy="246" rx="4" ry="4" fill="#111"/>
<ellipse cx="451" cy="244" rx="3" ry="3.5" fill="#222"/>
<ellipse cx="434" cy="241" rx="3" ry="1.5" fill="#999"/>
<ellipse cx="474" cy="220" rx="6" ry="3.2" fill="#555"/>
<path d="M431.2,222.0 C431.0,218.7 433.7,215.0 436.0,213.0 C438.3,211.0 441.8,210.1 445.0,209.8 C448.2,209.6 452.6,210.1 455.0,211.5 C457.4,212.9 458.9,215.2 459.1,218.0 C459.4,220.8 458.8,224.6 456.5,228.0 C454.2,231.4 448.4,237.5 445.2,238.3 C441.9,239.1 439.3,235.7 437.0,233.0 C434.7,230.3 431.4,225.3 431.2,222.0Z" fill="#161616" stroke="#000" stroke-width="2.00" />
<path d="M431.2,222.0 C431.0,218.7 433.7,215.0 436.0,213.0 C438.3,211.0 441.8,210.1 445.0,209.8 C448.2,209.6 452.6,210.1 455.0,211.5 C457.4,212.9 458.9,215.2 459.1,218.0 C459.4,220.8 458.8,224.6 456.5,228.0 C454.2,231.4 448.4,237.5 445.2,238.3 C441.9,239.1 439.3,235.7 437.0,233.0 C434.7,230.3 431.4,225.3 431.2,222.0Z" fill="none" stroke="#fff" stroke-width="0.77"/>
<path d="M435.6,222.0 C435.7,219.6 437.7,216.9 439.4,215.4 C441.1,213.9 443.4,213.3 445.6,213.2 C447.8,213.1 450.7,213.7 452.4,214.8 C454.1,215.9 455.5,217.6 455.6,219.6 C455.7,221.6 454.9,224.5 453.2,227.0 C451.5,229.5 448.0,233.9 445.6,234.4 C443.2,234.9 440.5,232.1 438.8,230.0 C437.1,227.9 435.5,224.4 435.6,222.0Z" fill="#8c8c8c" stroke="#000" stroke-width="1.90" />
<path d="M435.6,222.0 C435.7,219.6 437.7,216.9 439.4,215.4 C441.1,213.9 443.4,213.3 445.6,213.2 C447.8,213.1 450.7,213.7 452.4,214.8 C454.1,215.9 455.5,217.6 455.6,219.6 C455.7,221.6 454.9,224.5 453.2,227.0 C451.5,229.5 448.0,233.9 445.6,234.4 C443.2,234.9 440.5,232.1 438.8,230.0 C437.1,227.9 435.5,224.4 435.6,222.0Z" fill="none" stroke="#fff" stroke-width="0.68"/>
<path d="M438.8,222.4 C439.0,220.7 440.8,218.4 442.0,217.4 C443.2,216.4 444.6,216.2 446.0,216.2 C447.4,216.2 449.5,216.7 450.6,217.6 C451.7,218.5 452.5,220.2 452.4,221.8 C452.3,223.4 451.3,225.7 450.2,227.0 C449.1,228.3 447.3,229.7 445.8,229.8 C444.3,229.9 442.2,228.8 441.0,227.6 C439.8,226.4 438.6,224.1 438.8,222.4Z" fill="#202020" stroke="#bbb" stroke-width="0.5" />
<ellipse cx="446" cy="222.2" rx="4" ry="3.8" fill="#a0a0a0"/>
<path d="M414 237 C420 235.6 427 237.6 431.5 241 C427.5 244.6 421 246 414 245.6 Z" fill="#000"/>
<path d="M416 240.4 C420 240 424 241 427.6 242.2 C423 243.2 419 243.6 416 242.8 Z" fill="#fff"/>
<path d="M463.0,203.9 C461.7,201.0 463.0,191.8 463.2,188.2 C463.4,184.6 463.5,183.5 464.4,182.2 C465.3,181.0 466.9,181.1 468.4,180.6 C469.8,180.1 471.3,179.6 472.9,179.1 C474.6,178.7 475.9,178.4 478.2,178.0 C480.6,177.6 484.4,175.2 486.8,176.8 C489.2,178.4 491.3,184.5 492.4,187.7 C493.6,190.9 493.6,193.2 493.5,195.8 C493.4,198.4 492.4,201.6 491.8,203.3 C491.1,205.0 490.6,205.6 489.6,206.0 C488.5,206.3 487.3,205.5 485.4,205.3 C483.5,205.1 480.6,204.7 478.2,204.7 C475.8,204.7 473.5,205.6 470.9,205.5 C468.4,205.3 464.3,206.8 463.0,203.9Z" fill="#a8a8a8" stroke="#000" stroke-width="1.85" />
<path d="M463.0,203.9 C461.7,201.0 463.0,191.8 463.2,188.2 C463.4,184.6 463.5,183.5 464.4,182.2 C465.3,181.0 466.9,181.1 468.4,180.6 C469.8,180.1 471.3,179.6 472.9,179.1 C474.6,178.7 475.9,178.4 478.2,178.0 C480.6,177.6 484.4,175.2 486.8,176.8 C489.2,178.4 491.3,184.5 492.4,187.7 C493.6,190.9 493.6,193.2 493.5,195.8 C493.4,198.4 492.4,201.6 491.8,203.3 C491.1,205.0 490.6,205.6 489.6,206.0 C488.5,206.3 487.3,205.5 485.4,205.3 C483.5,205.1 480.6,204.7 478.2,204.7 C475.8,204.7 473.5,205.6 470.9,205.5 C468.4,205.3 464.3,206.8 463.0,203.9Z" fill="none" stroke="#fff" stroke-width="0.64"/>
<path d="M464.7,202.6 C463.5,200.1 465.0,191.7 465.3,188.5 C465.5,185.3 465.5,184.3 466.2,183.2 C467.0,182.1 468.7,182.3 470.0,181.9 C471.3,181.5 472.6,181.2 474.1,180.9 C475.5,180.6 476.6,180.4 478.5,180.1 C480.5,179.7 483.9,177.3 485.9,178.7 C487.8,180.0 489.4,185.4 490.4,188.2 C491.3,190.9 491.6,192.8 491.6,195.1 C491.6,197.3 490.9,200.2 490.4,201.7 C489.8,203.3 489.4,203.9 488.5,204.2 C487.5,204.4 486.3,203.6 484.7,203.3 C483.0,203.1 480.6,202.6 478.5,202.6 C476.4,202.7 474.3,203.7 472.0,203.7 C469.7,203.7 465.8,205.1 464.7,202.6Z" fill="#555" stroke="#000" stroke-width="1.85" />
<path d="M464.7,202.6 C463.5,200.1 465.0,191.7 465.3,188.5 C465.5,185.3 465.5,184.3 466.2,183.2 C467.0,182.1 468.7,182.3 470.0,181.9 C471.3,181.5 472.6,181.2 474.1,180.9 C475.5,180.6 476.6,180.4 478.5,180.1 C480.5,179.7 483.9,177.3 485.9,178.7 C487.8,180.0 489.4,185.4 490.4,188.2 C491.3,190.9 491.6,192.8 491.6,195.1 C491.6,197.3 490.9,200.2 490.4,201.7 C489.8,203.3 489.4,203.9 488.5,204.2 C487.5,204.4 486.3,203.6 484.7,203.3 C483.0,203.1 480.6,202.6 478.5,202.6 C476.4,202.7 474.3,203.7 472.0,203.7 C469.7,203.7 465.8,205.1 464.7,202.6Z" fill="none" stroke="#fff" stroke-width="0.64"/>
<path d="M466.3,201.3 C465.4,199.1 467.0,191.6 467.3,188.8 C467.6,186.0 467.4,185.1 468.1,184.2 C468.8,183.3 470.4,183.5 471.6,183.3 C472.7,183.0 474.0,182.9 475.2,182.7 C476.4,182.5 477.2,182.5 478.8,182.1 C480.5,181.8 483.3,179.5 484.9,180.6 C486.5,181.7 487.6,186.3 488.3,188.6 C489.1,190.9 489.5,192.4 489.6,194.3 C489.7,196.2 489.3,198.8 488.9,200.2 C488.6,201.5 488.2,202.2 487.3,202.4 C486.5,202.6 485.4,201.7 483.9,201.4 C482.5,201.1 480.6,200.5 478.7,200.5 C476.9,200.6 475.2,201.7 473.1,201.9 C471.0,202.0 467.3,203.5 466.3,201.3Z" fill="#9a9a9a" stroke="#000" stroke-width="1.85" />
<path d="M466.3,201.3 C465.4,199.1 467.0,191.6 467.3,188.8 C467.6,186.0 467.4,185.1 468.1,184.2 C468.8,183.3 470.4,183.5 471.6,183.3 C472.7,183.0 474.0,182.9 475.2,182.7 C476.4,182.5 477.2,182.5 478.8,182.1 C480.5,181.8 483.3,179.5 484.9,180.6 C486.5,181.7 487.6,186.3 488.3,188.6 C489.1,190.9 489.5,192.4 489.6,194.3 C489.7,196.2 489.3,198.8 488.9,200.2 C488.6,201.5 488.2,202.2 487.3,202.4 C486.5,202.6 485.4,201.7 483.9,201.4 C482.5,201.1 480.6,200.5 478.7,200.5 C476.9,200.6 475.2,201.7 473.1,201.9 C471.0,202.0 467.3,203.5 466.3,201.3Z" fill="none" stroke="#fff" stroke-width="0.64"/>
<path d="M468.0,199.9 C467.3,198.1 469.2,191.5 469.5,189.1 C469.9,186.6 469.4,186.0 470.0,185.2 C470.7,184.5 472.2,184.8 473.2,184.7 C474.3,184.6 475.3,184.6 476.3,184.6 C477.3,184.5 477.9,184.7 479.1,184.3 C480.4,184.0 482.8,181.7 484.0,182.5 C485.1,183.3 485.6,187.3 486.2,189.1 C486.8,190.9 487.4,191.9 487.6,193.5 C487.8,195.1 487.7,197.4 487.4,198.6 C487.2,199.7 486.9,200.4 486.2,200.5 C485.5,200.6 484.4,199.7 483.2,199.3 C482.0,198.9 480.5,198.2 479.0,198.4 C477.5,198.5 476.1,199.7 474.3,200.0 C472.4,200.2 468.8,201.7 468.0,199.9Z" fill="#444" stroke="#000" stroke-width="1.85" />
<path d="M468.0,199.9 C467.3,198.1 469.2,191.5 469.5,189.1 C469.9,186.6 469.4,186.0 470.0,185.2 C470.7,184.5 472.2,184.8 473.2,184.7 C474.3,184.6 475.3,184.6 476.3,184.6 C477.3,184.5 477.9,184.7 479.1,184.3 C480.4,184.0 482.8,181.7 484.0,182.5 C485.1,183.3 485.6,187.3 486.2,189.1 C486.8,190.9 487.4,191.9 487.6,193.5 C487.8,195.1 487.7,197.4 487.4,198.6 C487.2,199.7 486.9,200.4 486.2,200.5 C485.5,200.6 484.4,199.7 483.2,199.3 C482.0,198.9 480.5,198.2 479.0,198.4 C477.5,198.5 476.1,199.7 474.3,200.0 C472.4,200.2 468.8,201.7 468.0,199.9Z" fill="none" stroke="#fff" stroke-width="0.64"/>
<ellipse cx="479" cy="188.4" rx="3.6" ry="2.2" fill="#111"/>
<path d="M462.5 197 C464.5 195 468 195.5 471 197.5 C472.5 200 472 203.5 470 205.5 L462.5 205.5 Z" fill="#aaa"/>
<ellipse cx="469.4" cy="201" rx="3.2" ry="2.4" fill="#000"/>
<ellipse cx="469.6" cy="201" rx="2" ry="1.3" fill="#fff"/>
<ellipse cx="485.5" cy="220.4" rx="2" ry="1.5" fill="#eee"/>
<path d="M477.6 231 C481 232 484.5 233.5 485.5 236 C484 239 481 240.5 478.5 240 C477 237 476.8 234 477.6 231 Z" fill="#000"/>
<ellipse cx="481" cy="235.5" rx="1.6" ry="1.2" fill="#fff"/>
</g>
<g clip-path="url(#c2)">
<path d="M310.0,311.0 C310.5,304.4 312.4,309.7 313.2,311.2 C314.0,312.7 314.0,318.1 315.0,320.0 C316.0,321.9 317.5,322.4 319.2,322.6 C320.9,322.8 323.1,322.1 325.1,321.4 C327.1,320.7 329.1,319.3 331.1,318.4 C333.1,317.5 335.2,316.8 337.0,316.0 C338.8,315.2 340.2,314.6 341.8,313.6 C343.4,312.6 345.2,310.6 346.6,310.1 C348.0,309.6 348.7,311.2 350.1,310.7 C351.5,310.2 353.3,307.5 354.9,307.1 C356.5,306.7 358.7,307.1 359.7,308.3 C360.7,309.5 360.5,312.4 360.9,314.2 C361.3,316.0 361.2,317.8 362.0,319.0 C362.8,320.2 364.2,321.2 365.6,321.4 C367.0,321.6 369.2,320.6 370.4,320.2 C371.6,319.8 373.3,317.9 373.0,318.8 C372.7,319.7 369.4,322.6 368.4,325.3 C367.4,328.0 367.3,331.4 366.9,334.8 C366.5,338.2 366.0,342.8 365.8,345.5 C365.6,348.2 374.8,350.1 365.5,351.0 C356.2,351.9 319.2,357.7 310.0,351.0 C300.8,344.3 309.5,317.6 310.0,311.0Z" fill="#000"/>
<path d="M310.0,314.6 C310.8,308.6 313.4,313.7 314.6,315.0 C315.8,316.3 316.1,320.7 317.0,322.4 C317.9,324.1 318.6,324.9 320.0,325.2 C321.4,325.5 323.2,324.7 325.1,324.0 C327.0,323.3 329.1,321.9 331.1,321.0 C333.1,320.1 335.2,319.4 337.0,318.6 C338.8,317.8 340.2,317.1 341.8,316.2 C343.4,315.2 345.2,313.3 346.6,312.9 C348.0,312.4 348.7,314.0 350.1,313.5 C351.5,313.0 353.6,310.5 354.9,310.1 C356.1,309.7 357.0,310.3 357.6,311.2 C358.2,312.1 358.0,313.9 358.4,315.6 C358.8,317.3 358.8,320.2 360.0,321.6 C361.2,323.0 364.3,323.7 365.6,324.0 C366.9,324.3 368.0,322.9 368.0,323.4 C368.0,323.9 366.3,325.1 365.6,327.0 C364.9,328.9 364.4,332.0 364.0,335.0 C363.6,338.0 363.2,342.3 363.0,345.0 C362.8,347.7 371.8,350.0 363.0,351.0 C354.2,352.0 318.8,357.1 310.0,351.0 C301.2,344.9 309.2,320.6 310.0,314.6Z" fill="url(#topl)"/>
<ellipse cx="352" cy="318" rx="8" ry="6" fill="url(#lt)"/>
<ellipse cx="318" cy="335" rx="7" ry="12" fill="url(#dk)"/>
<path d="M322.7,338.0 C322.6,336.2 322.8,332.8 324.0,331.0 C325.2,329.2 327.7,327.9 330.0,327.0 C332.3,326.1 335.3,325.6 338.0,325.3 C340.7,325.0 343.9,324.9 346.0,325.3 C348.1,325.8 349.5,326.7 350.5,328.0 C351.5,329.3 351.9,331.2 351.9,333.0 C351.9,334.8 351.5,337.3 350.5,339.0 C349.5,340.7 348.1,342.0 346.0,343.0 C343.9,344.0 340.7,344.6 338.0,344.9 C335.3,345.1 332.2,345.0 330.0,344.5 C327.8,344.0 325.7,343.1 324.5,342.0 C323.3,340.9 322.8,339.8 322.7,338.0Z" fill="#555" stroke="#000" stroke-width="1.90" />
<path d="M322.7,338.0 C322.6,336.2 322.8,332.8 324.0,331.0 C325.2,329.2 327.7,327.9 330.0,327.0 C332.3,326.1 335.3,325.6 338.0,325.3 C340.7,325.0 343.9,324.9 346.0,325.3 C348.1,325.8 349.5,326.7 350.5,328.0 C351.5,329.3 351.9,331.2 351.9,333.0 C351.9,334.8 351.5,337.3 350.5,339.0 C349.5,340.7 348.1,342.0 346.0,343.0 C343.9,344.0 340.7,344.6 338.0,344.9 C335.3,345.1 332.2,345.0 330.0,344.5 C327.8,344.0 325.7,343.1 324.5,342.0 C323.3,340.9 322.8,339.8 322.7,338.0Z" fill="none" stroke="#fff" stroke-width="0.68"/>
<path d="M327.5,336.0 C327.8,334.6 328.2,331.9 329.5,330.5 C330.8,329.1 332.9,328.2 335.0,327.6 C337.1,327.0 339.8,326.9 342.0,327.0 C344.2,327.1 346.6,327.2 348.0,328.0 C349.4,328.8 349.9,330.4 350.1,332.0 C350.3,333.6 349.9,336.0 349.0,337.5 C348.1,339.0 346.8,340.2 345.0,341.0 C343.2,341.8 340.3,342.0 338.0,342.0 C335.7,342.0 332.7,341.5 331.0,341.0 C329.3,340.5 328.6,339.8 328.0,339.0 C327.4,338.2 327.2,337.4 327.5,336.0Z" fill="#999" stroke="#000" stroke-width="1.90" />
<path d="M327.5,336.0 C327.8,334.6 328.2,331.9 329.5,330.5 C330.8,329.1 332.9,328.2 335.0,327.6 C337.1,327.0 339.8,326.9 342.0,327.0 C344.2,327.1 346.6,327.2 348.0,328.0 C349.4,328.8 349.9,330.4 350.1,332.0 C350.3,333.6 349.9,336.0 349.0,337.5 C348.1,339.0 346.8,340.2 345.0,341.0 C343.2,341.8 340.3,342.0 338.0,342.0 C335.7,342.0 332.7,341.5 331.0,341.0 C329.3,340.5 328.6,339.8 328.0,339.0 C327.4,338.2 327.2,337.4 327.5,336.0Z" fill="none" stroke="#fff" stroke-width="0.68"/>
<path d="M329.9,335.5 C330.1,334.2 330.8,332.1 332.0,331.0 C333.2,329.9 335.2,329.4 337.0,329.0 C338.8,328.6 341.4,328.5 343.0,328.8 C344.6,329.1 345.9,329.7 346.6,330.6 C347.3,331.6 347.4,333.2 347.2,334.5 C347.0,335.8 346.7,337.4 345.5,338.5 C344.3,339.6 341.9,340.5 340.0,340.8 C338.1,341.1 335.5,340.8 334.0,340.4 C332.5,340.0 331.7,339.3 331.0,338.5 C330.3,337.7 329.7,336.8 329.9,335.5Z" fill="#444" stroke="#000" stroke-width="1.90" />
<path d="M329.9,335.5 C330.1,334.2 330.8,332.1 332.0,331.0 C333.2,329.9 335.2,329.4 337.0,329.0 C338.8,328.6 341.4,328.5 343.0,328.8 C344.6,329.1 345.9,329.7 346.6,330.6 C347.3,331.6 347.4,333.2 347.2,334.5 C347.0,335.8 346.7,337.4 345.5,338.5 C344.3,339.6 341.9,340.5 340.0,340.8 C338.1,341.1 335.5,340.8 334.0,340.4 C332.5,340.0 331.7,339.3 331.0,338.5 C330.3,337.7 329.7,336.8 329.9,335.5Z" fill="none" stroke="#fff" stroke-width="0.68"/>
<path d="M334.0,334.0 C334.2,333.1 334.7,331.7 335.6,331.0 C336.5,330.3 338.2,330.1 339.5,330.0 C340.8,329.9 342.6,329.9 343.5,330.4 C344.4,330.9 344.7,332.0 344.8,333.0 C344.9,334.0 344.7,335.6 344.0,336.5 C343.3,337.4 341.8,338.1 340.5,338.4 C339.2,338.6 337.0,338.3 336.0,338.0 C335.0,337.7 334.8,337.2 334.5,336.5 C334.2,335.8 333.8,334.9 334.0,334.0Z" fill="#bdbdbd" stroke="#111" stroke-width="0.8" />
<path d="M313 322 C316 324 319 328 320 334 C320.5 339 319 344 317 347 L313 347 Z" fill="#2a2a2a"/>
<path d="M311 338 C315 337 318 339 319.5 342 C318 345 314 347 311 347 Z" fill="#000"/>
<path d="M312.5 341 C314.5 340.6 316 341.6 316.6 342.8 C315 343.6 313.5 343.8 312.5 343.4 Z" fill="#fff"/>
<path d="M376.4 292.7 L383 287.6 L389.8 292.7 L383 297.6 Z" fill="#000" stroke="#000" stroke-width="1.4" stroke-linejoin="round"/>
<ellipse cx="383.2" cy="292.5" rx="3.2" ry="2.4" fill="#c0c0c0"/>
<path d="M378.6,306.0 C378.8,304.3 379.2,302.1 380.0,301.0 C380.8,299.9 382.2,299.3 383.5,299.1 C384.8,298.9 386.4,299.3 387.5,300.0 C388.6,300.7 389.7,302.0 390.2,303.5 C390.7,305.0 390.9,307.3 390.7,309.0 C390.5,310.7 389.9,312.3 389.0,313.5 C388.1,314.7 386.3,316.0 385.0,316.3 C383.7,316.6 382.0,316.4 381.0,315.5 C380.0,314.6 379.2,312.6 378.8,311.0 C378.4,309.4 378.4,307.7 378.6,306.0Z" fill="#000"/>
<ellipse cx="384.4" cy="308.4" rx="3.8" ry="4.2" fill="#bbb"/>
<path d="M381.5 315 C378.5 316 375.5 316.2 373.5 317 C371.5 318.5 369.5 320.5 367.5 322.5" fill="none" stroke="#000" stroke-width="1.8"/>
<ellipse cx="374.5" cy="317.4" rx="2" ry="1.4" fill="#000"/>
<circle cx="382.6" cy="328.8" r="0.9" fill="#000"/>
</g>
<g clip-path="url(#c3)">
<path d="M412.0,324.0 C412.5,319.4 413.7,323.5 414.9,323.5 C416.1,323.5 417.4,324.7 419.2,324.2 C421.0,323.7 423.4,321.4 425.5,320.4 C427.6,319.4 429.9,319.1 431.7,318.4 C433.5,317.6 434.4,316.7 436.1,315.9 C437.8,315.1 440.1,314.1 441.7,313.4 C443.2,312.7 444.1,312.1 445.4,311.5 C446.6,310.9 447.9,310.2 449.2,309.7 C450.4,309.2 451.8,308.5 452.9,308.4 C454.0,308.3 455.0,308.6 456.0,309.1 C457.0,309.6 458.1,310.9 459.1,311.5 C460.2,312.1 461.2,312.3 462.3,312.8 C463.4,313.3 464.3,314.0 465.4,314.7 C466.5,315.4 468.5,316.0 468.8,317.2 C469.1,318.4 467.1,320.2 467.0,321.8 C466.9,323.4 468.2,324.8 468.2,326.8 C468.2,328.8 467.2,331.5 466.8,333.7 C466.4,335.9 465.9,337.8 465.5,339.9 C465.1,342.0 464.4,344.2 464.2,346.1 C463.9,348.0 472.7,350.2 464.0,351.0 C455.3,351.8 420.7,355.5 412.0,351.0 C403.3,346.5 411.5,328.6 412.0,324.0Z" fill="#000"/>
<path d="M412.0,327.0 C412.5,322.9 413.8,326.5 415.0,326.5 C416.2,326.5 417.4,327.6 419.2,327.0 C420.9,326.4 423.4,324.2 425.5,323.2 C427.6,322.2 429.9,321.9 431.7,321.2 C433.5,320.4 434.4,319.5 436.1,318.7 C437.8,317.9 440.1,316.9 441.7,316.2 C443.2,315.5 444.1,314.9 445.4,314.3 C446.6,313.7 447.9,313.0 449.2,312.5 C450.4,312.0 451.8,311.4 452.9,311.3 C454.0,311.2 454.7,311.5 455.6,312.0 C456.6,312.5 457.5,313.7 458.6,314.3 C459.7,314.9 460.9,315.1 462.0,315.6 C463.1,316.1 464.6,316.4 465.0,317.4 C465.4,318.4 464.2,320.2 464.2,321.8 C464.2,323.4 465.2,324.8 465.2,326.8 C465.2,328.8 464.4,331.5 464.0,333.7 C463.6,335.9 463.2,337.8 462.8,339.9 C462.4,342.0 461.8,344.2 461.6,346.1 C461.4,348.0 469.7,350.2 461.4,351.0 C453.1,351.8 420.2,355.0 412.0,351.0 C403.8,347.0 411.5,331.1 412.0,327.0Z" fill="url(#topl)"/>
<path d="M416.7,335.0 C417.1,333.0 418.1,330.2 420.0,328.0 C421.9,325.8 425.0,323.6 428.0,322.0 C431.0,320.4 434.7,319.2 438.0,318.5 C441.3,317.8 445.0,317.5 448.0,317.5 C451.0,317.5 453.8,317.8 456.0,318.5 C458.2,319.2 460.4,320.2 461.5,322.0 C462.6,323.8 463.0,326.5 462.9,329.0 C462.8,331.5 462.3,334.8 461.0,337.0 C459.7,339.2 457.7,341.2 455.0,342.5 C452.3,343.8 448.8,344.5 445.0,344.9 C441.2,345.3 435.8,345.3 432.0,345.0 C428.2,344.7 424.4,343.8 422.0,343.0 C419.6,342.2 418.4,341.3 417.5,340.0 C416.6,338.7 416.3,337.0 416.7,335.0Z" fill="#7a7a7a" stroke="#000" stroke-width="1.90" />
<path d="M416.7,335.0 C417.1,333.0 418.1,330.2 420.0,328.0 C421.9,325.8 425.0,323.6 428.0,322.0 C431.0,320.4 434.7,319.2 438.0,318.5 C441.3,317.8 445.0,317.5 448.0,317.5 C451.0,317.5 453.8,317.8 456.0,318.5 C458.2,319.2 460.4,320.2 461.5,322.0 C462.6,323.8 463.0,326.5 462.9,329.0 C462.8,331.5 462.3,334.8 461.0,337.0 C459.7,339.2 457.7,341.2 455.0,342.5 C452.3,343.8 448.8,344.5 445.0,344.9 C441.2,345.3 435.8,345.3 432.0,345.0 C428.2,344.7 424.4,343.8 422.0,343.0 C419.6,342.2 418.4,341.3 417.5,340.0 C416.6,338.7 416.3,337.0 416.7,335.0Z" fill="none" stroke="#fff" stroke-width="0.68"/>
<path d="M422.4,335.0 C422.3,333.2 423.4,330.8 425.0,329.0 C426.6,327.2 429.3,325.3 432.0,324.0 C434.7,322.7 438.0,321.6 441.0,321.0 C444.0,320.4 447.3,320.4 450.0,320.6 C452.7,320.9 455.2,321.4 457.0,322.5 C458.8,323.6 460.5,324.9 461.0,327.0 C461.5,329.1 461.0,332.8 460.0,335.0 C459.0,337.2 457.3,339.2 455.0,340.5 C452.7,341.8 449.5,342.7 446.0,343.0 C442.5,343.3 437.4,343.0 434.0,342.5 C430.6,342.0 427.4,341.2 425.5,340.0 C423.6,338.8 422.5,336.8 422.4,335.0Z" fill="#a8a8a8" stroke="#000" stroke-width="1.90" />
<path d="M422.4,335.0 C422.3,333.2 423.4,330.8 425.0,329.0 C426.6,327.2 429.3,325.3 432.0,324.0 C434.7,322.7 438.0,321.6 441.0,321.0 C444.0,320.4 447.3,320.4 450.0,320.6 C452.7,320.9 455.2,321.4 457.0,322.5 C458.8,323.6 460.5,324.9 461.0,327.0 C461.5,329.1 461.0,332.8 460.0,335.0 C459.0,337.2 457.3,339.2 455.0,340.5 C452.7,341.8 449.5,342.7 446.0,343.0 C442.5,343.3 437.4,343.0 434.0,342.5 C430.6,342.0 427.4,341.2 425.5,340.0 C423.6,338.8 422.5,336.8 422.4,335.0Z" fill="none" stroke="#fff" stroke-width="0.68"/>
<path d="M428.0,334.0 C428.2,332.3 429.5,329.6 431.0,328.0 C432.5,326.4 434.7,325.3 437.0,324.5 C439.3,323.7 442.5,323.1 445.0,323.0 C447.5,322.9 450.1,322.9 452.0,323.6 C453.9,324.3 455.6,325.6 456.5,327.0 C457.4,328.4 457.7,330.2 457.3,332.0 C456.9,333.8 455.7,336.2 454.0,337.5 C452.3,338.8 449.8,339.6 447.0,340.0 C444.2,340.4 439.8,339.9 437.0,339.6 C434.2,339.3 431.5,338.9 430.0,338.0 C428.5,337.1 427.8,335.7 428.0,334.0Z" fill="#5a5a5a" stroke="#000" stroke-width="1.90" />
<path d="M428.0,334.0 C428.2,332.3 429.5,329.6 431.0,328.0 C432.5,326.4 434.7,325.3 437.0,324.5 C439.3,323.7 442.5,323.1 445.0,323.0 C447.5,322.9 450.1,322.9 452.0,323.6 C453.9,324.3 455.6,325.6 456.5,327.0 C457.4,328.4 457.7,330.2 457.3,332.0 C456.9,333.8 455.7,336.2 454.0,337.5 C452.3,338.8 449.8,339.6 447.0,340.0 C444.2,340.4 439.8,339.9 437.0,339.6 C434.2,339.3 431.5,338.9 430.0,338.0 C428.5,337.1 427.8,335.7 428.0,334.0Z" fill="none" stroke="#fff" stroke-width="0.68"/>
<path d="M433.0,333.0 C433.2,331.8 434.7,329.2 436.0,328.0 C437.3,326.8 439.0,326.1 441.0,325.6 C443.0,325.1 446.1,324.8 448.0,325.0 C449.9,325.2 451.5,326.0 452.5,327.0 C453.5,328.0 454.2,329.6 454.1,331.0 C454.0,332.4 453.4,334.4 452.0,335.5 C450.6,336.6 448.2,337.1 446.0,337.4 C443.8,337.6 440.9,337.3 439.0,337.0 C437.1,336.7 435.5,336.2 434.5,335.5 C433.5,334.8 432.8,334.2 433.0,333.0Z" fill="#909090" stroke="#000" stroke-width="1.90" />
<path d="M433.0,333.0 C433.2,331.8 434.7,329.2 436.0,328.0 C437.3,326.8 439.0,326.1 441.0,325.6 C443.0,325.1 446.1,324.8 448.0,325.0 C449.9,325.2 451.5,326.0 452.5,327.0 C453.5,328.0 454.2,329.6 454.1,331.0 C454.0,332.4 453.4,334.4 452.0,335.5 C450.6,336.6 448.2,337.1 446.0,337.4 C443.8,337.6 440.9,337.3 439.0,337.0 C437.1,336.7 435.5,336.2 434.5,335.5 C433.5,334.8 432.8,334.2 433.0,333.0Z" fill="none" stroke="#fff" stroke-width="0.68"/>
<path d="M436.7,331.5 C437.0,330.4 438.3,328.5 439.5,327.6 C440.7,326.7 442.4,326.4 444.0,326.2 C445.6,326.0 447.7,326.1 449.0,326.6 C450.3,327.2 451.4,328.4 451.7,329.5 C452.0,330.6 451.8,332.4 450.8,333.5 C449.9,334.6 447.7,335.8 446.0,336.2 C444.3,336.6 441.9,336.4 440.5,336.0 C439.1,335.6 438.1,334.8 437.5,334.0 C436.9,333.2 436.4,332.6 436.7,331.5Z" fill="#333" stroke="#000" stroke-width="1.90" />
<path d="M436.7,331.5 C437.0,330.4 438.3,328.5 439.5,327.6 C440.7,326.7 442.4,326.4 444.0,326.2 C445.6,326.0 447.7,326.1 449.0,326.6 C450.3,327.2 451.4,328.4 451.7,329.5 C452.0,330.6 451.8,332.4 450.8,333.5 C449.9,334.6 447.7,335.8 446.0,336.2 C444.3,336.6 441.9,336.4 440.5,336.0 C439.1,335.6 438.1,334.8 437.5,334.0 C436.9,333.2 436.4,332.6 436.7,331.5Z" fill="none" stroke="#fff" stroke-width="0.68"/>
<ellipse cx="446" cy="330.6" rx="3.6" ry="2.8" fill="#000"/>
<ellipse cx="442" cy="332" rx="1.6" ry="1.2" fill="#777"/>
<path d="M470.5,311.0 C470.6,309.6 471.8,307.7 473.0,306.5 C474.2,305.3 475.8,304.2 477.5,303.6 C479.2,303.0 481.2,302.7 483.0,302.6 C484.8,302.5 487.0,302.6 488.5,303.2 C490.0,303.8 491.4,304.7 492.0,306.0 C492.6,307.3 492.8,309.5 492.3,311.0 C491.8,312.5 490.6,314.1 489.0,315.0 C487.4,315.9 485.0,316.4 483.0,316.6 C481.0,316.8 478.8,316.7 477.0,316.4 C475.2,316.1 473.6,315.5 472.5,314.6 C471.4,313.7 470.4,312.4 470.5,311.0Z" fill="#000"/>
<path d="M474.0,310.5 C474.2,309.6 475.3,307.9 476.5,307.0 C477.7,306.1 479.4,305.5 481.0,305.3 C482.6,305.1 484.7,305.1 486.0,305.6 C487.3,306.1 488.6,307.2 489.0,308.3 C489.4,309.4 489.3,311.1 488.5,312.0 C487.7,312.9 485.7,313.5 484.0,313.8 C482.3,314.1 480.0,313.8 478.5,313.6 C477.0,313.4 475.8,312.9 475.0,312.4 C474.2,311.9 473.8,311.4 474.0,310.5Z" fill="#999" stroke="#000" stroke-width="1.80" />
<path d="M474.0,310.5 C474.2,309.6 475.3,307.9 476.5,307.0 C477.7,306.1 479.4,305.5 481.0,305.3 C482.6,305.1 484.7,305.1 486.0,305.6 C487.3,306.1 488.6,307.2 489.0,308.3 C489.4,309.4 489.3,311.1 488.5,312.0 C487.7,312.9 485.7,313.5 484.0,313.8 C482.3,314.1 480.0,313.8 478.5,313.6 C477.0,313.4 475.8,312.9 475.0,312.4 C474.2,311.9 473.8,311.4 474.0,310.5Z" fill="none" stroke="#fff" stroke-width="0.59"/>
<ellipse cx="482.6" cy="309.4" rx="2.2" ry="1.4" fill="#222"/>
<ellipse cx="478.6" cy="292.8" rx="2.6" ry="1.3" fill="#000"/>
</g>
<line x1="362" y1="179.8" x2="362" y2="249.8" stroke="#777" stroke-width="0.9"/>
<line x1="314.3" y1="207.6" x2="409.4" y2="207.6" stroke="#777" stroke-width="0.9"/>
<line x1="462.2" y1="171.7" x2="462.2" y2="250.3" stroke="#777" stroke-width="0.9"/>
<line x1="414.6" y1="207.4" x2="510.1" y2="207.4" stroke="#777" stroke-width="0.9"/>
<line x1="361.5" y1="269.1" x2="361.5" y2="346.9" stroke="#777" stroke-width="0.9"/>
<line x1="312.9" y1="316.5" x2="408.2" y2="316.5" stroke="#777" stroke-width="0.9"/>
<line x1="462.6" y1="269.4" x2="462.6" y2="346.9" stroke="#777" stroke-width="0.9"/>
<line x1="414.3" y1="316.8" x2="509.4" y2="316.8" stroke="#777" stroke-width="0.9"/>
<rect x="488.4" y="172.4" width="21" height="13" fill="#fff"/>
<rect x="481" y="240.2" width="28.6" height="9.6" fill="#fff"/>
<rect x="314.3" y="171.6" width="95.1" height="78.2" fill="none" stroke="#000" stroke-width="1.2"/>
<line x1="313.1" y1="172.6" x2="313.1" y2="249.8" stroke="#333" stroke-width="1.6" stroke-dasharray="1,2.6"/>
<line x1="315.3" y1="251.20000000000002" x2="409.4" y2="251.20000000000002" stroke="#333" stroke-width="2" stroke-dasharray="1.3,1.9"/>
<rect x="414.6" y="171.7" width="95.5" height="78.6" fill="none" stroke="#000" stroke-width="1.2"/>
<line x1="413.40000000000003" y1="172.7" x2="413.40000000000003" y2="250.3" stroke="#333" stroke-width="1.6" stroke-dasharray="1,2.6"/>
<line x1="415.6" y1="251.70000000000002" x2="510.1" y2="251.70000000000002" stroke="#333" stroke-width="2" stroke-dasharray="1.3,1.9"/>
<rect x="312.9" y="269.1" width="95.3" height="77.8" fill="none" stroke="#000" stroke-width="1.2"/>
<line x1="311.7" y1="270.1" x2="311.7" y2="346.9" stroke="#333" stroke-width="1.6" stroke-dasharray="1,2.6"/>
<line x1="313.9" y1="348.29999999999995" x2="408.2" y2="348.29999999999995" stroke="#333" stroke-width="2" stroke-dasharray="1.3,1.9"/>
<rect x="414.3" y="269.4" width="95.1" height="77.5" fill="none" stroke="#000" stroke-width="1.2"/>
<line x1="413.1" y1="270.4" x2="413.1" y2="346.9" stroke="#333" stroke-width="1.6" stroke-dasharray="1,2.6"/>
<line x1="415.3" y1="348.29999999999995" x2="509.4" y2="348.29999999999995" stroke="#333" stroke-width="2" stroke-dasharray="1.3,1.9"/>
<text transform="translate(320,182.8) scale(1.2,1)" font-family="Liberation Serif" font-size="10.6" text-anchor="middle" stroke="#000" stroke-width="0.3">0</text>
<text transform="translate(328.8,182.8) scale(1.2,1)" font-family="Liberation Serif" font-size="10.6" text-anchor="middle" stroke="#000" stroke-width="0.3">.</text>
<text transform="translate(334.4,182.8) scale(1.2,1)" font-family="Liberation Serif" font-size="10.6" text-anchor="middle" stroke="#000" stroke-width="0.3">8</text>
<text transform="translate(343,182.8) scale(1.2,1)" font-family="Liberation Serif" font-size="10.6" text-anchor="middle" stroke="#000" stroke-width="0.3">6</text>
<text transform="translate(391,182) scale(1.2,1)" font-family="Liberation Serif" font-size="10.6" text-anchor="middle" stroke="#000" stroke-width="0.3">1</text>
<text transform="translate(397.7,182) scale(1.2,1)" font-family="Liberation Serif" font-size="10.6" text-anchor="middle" stroke="#000" stroke-width="0.3">.</text>
<text transform="translate(404,182) scale(1.2,1)" font-family="Liberation Serif" font-size="10.6" text-anchor="middle" stroke="#000" stroke-width="0.3">6</text>
<text transform="translate(382.6,247.4) scale(1.2,1)" font-family="Liberation Serif" font-size="10.6" text-anchor="middle" stroke="#000" stroke-width="0.3">1</text>
<text transform="translate(388.85,247.4) scale(1.2,1)" font-family="Liberation Serif" font-size="10.6" text-anchor="middle" stroke="#000" stroke-width="0.3">.</text>
<text transform="translate(394.7,247.4) scale(1.2,1)" font-family="Liberation Serif" font-size="10.6" text-anchor="middle" stroke="#000" stroke-width="0.3">9</text>
<text transform="translate(403.9,247.4) scale(1.2,1)" font-family="Liberation Serif" font-size="10.6" text-anchor="middle" stroke="#000" stroke-width="0.3">8</text>
<text transform="translate(422.3,179.7) scale(1.2,1)" font-family="Liberation Serif" font-size="10.6" text-anchor="middle" stroke="#000" stroke-width="0.3">1</text>
<text transform="translate(428.55,179.7) scale(1.2,1)" font-family="Liberation Serif" font-size="10.6" text-anchor="middle" stroke="#000" stroke-width="0.3">.</text>
<text transform="translate(435.5,179.7) scale(1.2,1)" font-family="Liberation Serif" font-size="10.6" text-anchor="middle" stroke="#000" stroke-width="0.3">4</text>
<text transform="translate(443.6,179.7) scale(1.2,1)" font-family="Liberation Serif" font-size="10.6" text-anchor="middle" stroke="#000" stroke-width="0.3">8</text>
<text transform="translate(495.15,183.5) scale(1.1,1)" font-family="Liberation Serif" font-size="12" text-anchor="middle" stroke="#000" stroke-width="0.3">3</text>
<text transform="translate(503.65,183.5) scale(1.1,1)" font-family="Liberation Serif" font-size="12" text-anchor="middle" stroke="#000" stroke-width="0.3">5</text>
<text transform="translate(485,248.9) scale(1.2,1)" font-family="Liberation Serif" font-size="10.8" text-anchor="middle" stroke="#000" stroke-width="0.3">1</text>
<text transform="translate(492.8,248.9) scale(1.2,1)" font-family="Liberation Serif" font-size="10.8" text-anchor="middle" stroke="#000" stroke-width="0.3">1</text>
<text transform="translate(498.5,248.9) scale(1.2,1)" font-family="Liberation Serif" font-size="10.8" text-anchor="middle" stroke="#000" stroke-width="0.3">.</text>
<text transform="translate(505.9,248.9) scale(1.2,1)" font-family="Liberation Serif" font-size="10.8" text-anchor="middle" stroke="#000" stroke-width="0.3">5</text>
<text transform="translate(318.9,282.6) scale(1.2,1)" font-family="Liberation Serif" font-size="10.8" text-anchor="middle" stroke="#000" stroke-width="0.3">1</text>
<text transform="translate(325.7,282.6) scale(1.2,1)" font-family="Liberation Serif" font-size="10.8" text-anchor="middle" stroke="#000" stroke-width="0.3">.</text>
<text transform="translate(331.95,282.6) scale(1.2,1)" font-family="Liberation Serif" font-size="10.8" text-anchor="middle" stroke="#000" stroke-width="0.3">7</text>
<text transform="translate(340.75,282.6) scale(1.2,1)" font-family="Liberation Serif" font-size="10.8" text-anchor="middle" stroke="#000" stroke-width="0.3">8</text>
<text transform="translate(383.6,282.4) scale(1.2,1)" font-family="Liberation Serif" font-size="10.8" text-anchor="middle" stroke="#000" stroke-width="0.3">2</text>
<text transform="translate(390.9,282.4) scale(1.2,1)" font-family="Liberation Serif" font-size="10.8" text-anchor="middle" stroke="#000" stroke-width="0.3">.</text>
<text transform="translate(396.45,282.4) scale(1.2,1)" font-family="Liberation Serif" font-size="10.8" text-anchor="middle" stroke="#000" stroke-width="0.3">4</text>
<text transform="translate(405.6,282.4) scale(1.2,1)" font-family="Liberation Serif" font-size="10.8" text-anchor="middle" stroke="#000" stroke-width="0.3">8</text>
<text transform="translate(380.9,344.3) scale(1.2,1)" font-family="Liberation Serif" font-size="10.8" text-anchor="middle" stroke="#000" stroke-width="0.3">2</text>
<text transform="translate(387.85,344.3) scale(1.2,1)" font-family="Liberation Serif" font-size="10.8" text-anchor="middle" stroke="#000" stroke-width="0.3">.</text>
<text transform="translate(393.25,344.3) scale(1.2,1)" font-family="Liberation Serif" font-size="10.8" text-anchor="middle" stroke="#000" stroke-width="0.3">5</text>
<text transform="translate(402.05,344.3) scale(1.2,1)" font-family="Liberation Serif" font-size="10.8" text-anchor="middle" stroke="#000" stroke-width="0.3">4</text>
<text transform="translate(421.7,280.4) scale(1.2,1)" font-family="Liberation Serif" font-size="10.8" text-anchor="middle" stroke="#000" stroke-width="0.3">2</text>
<text transform="translate(428.65,280.4) scale(1.2,1)" font-family="Liberation Serif" font-size="10.8" text-anchor="middle" stroke="#000" stroke-width="0.3">.</text>
<text transform="translate(434.85,280.4) scale(1.2,1)" font-family="Liberation Serif" font-size="10.8" text-anchor="middle" stroke="#000" stroke-width="0.3">4</text>
<text transform="translate(484.85,280.0) scale(1.2,1)" font-family="Liberation Serif" font-size="10.8" text-anchor="middle" stroke="#000" stroke-width="0.3">6</text>
<text transform="translate(492.45,280.0) scale(1.2,1)" font-family="Liberation Serif" font-size="10.8" text-anchor="middle" stroke="#000" stroke-width="0.3">.</text>
<text transform="translate(498.15,280.0) scale(1.2,1)" font-family="Liberation Serif" font-size="10.8" text-anchor="middle" stroke="#000" stroke-width="0.3">1</text>
<text transform="translate(506.8,280.0) scale(1.2,1)" font-family="Liberation Serif" font-size="10.8" text-anchor="middle" stroke="#000" stroke-width="0.3">4</text>
<text transform="translate(484.3,345.3) scale(1.2,1)" font-family="Liberation Serif" font-size="10.8" text-anchor="middle" stroke="#000" stroke-width="0.3">3</text>
<text transform="translate(491.95,345.3) scale(1.2,1)" font-family="Liberation Serif" font-size="10.8" text-anchor="middle" stroke="#000" stroke-width="0.3">.</text>
<text transform="translate(497.15,345.3) scale(1.2,1)" font-family="Liberation Serif" font-size="10.8" text-anchor="middle" stroke="#000" stroke-width="0.3">0</text>
<text transform="translate(506.3,345.3) scale(1.2,1)" font-family="Liberation Serif" font-size="10.8" text-anchor="middle" stroke="#000" stroke-width="0.3">7</text>
<text x="44.4" y="390.5" font-family="Liberation Serif" font-size="9.8" fill="#1a1a1a" font-style="italic" stroke-width="0">1</text>
<text x="58.2" y="390.5" font-family="Liberation Serif" font-size="9.8" fill="#1a1a1a" textLength="78.8" lengthAdjust="spacingAndGlyphs" font-style="italic" stroke-width="0">MSCV-GFP infection</text>
<text x="150.8" y="390.5" font-family="Liberation Serif" font-size="9.8" fill="#1a1a1a" font-style="italic" stroke-width="0">2</text>
<text x="162.2" y="390.5" font-family="Liberation Serif" font-size="9.8" fill="#1a1a1a" textLength="36.3" lengthAdjust="spacingAndGlyphs" font-style="italic" stroke-width="0">Tak1fx/fx</text>
<text x="205.6" y="390.5" font-family="Liberation Serif" font-size="9.8" fill="#1a1a1a" font-style="italic" stroke-width="0">3</text>
<text x="215.4" y="390.5" font-family="Liberation Serif" font-size="9.8" fill="#1a1a1a" textLength="69.2" lengthAdjust="spacingAndGlyphs" font-style="italic" stroke-width="0">Tak1fx/fxTnfr2-/-</text>
<text x="301.2" y="390.5" font-family="Liberation Serif" font-size="9.8" fill="#1a1a1a" font-style="italic" stroke-width="0">4</text>
<text x="310" y="390.5" font-family="Liberation Serif" font-size="9.8" fill="#1a1a1a" textLength="69.2" lengthAdjust="spacingAndGlyphs" font-style="italic" stroke-width="0">Tak1fx/fxTnfr1-/-</text>
<text x="387.5" y="390.5" font-family="Liberation Serif" font-size="9.8" fill="#1a1a1a" font-style="italic" stroke-width="0">5</text>
<text x="397.7" y="390.5" font-family="Liberation Serif" font-size="9.8" fill="#1a1a1a" textLength="88.3" lengthAdjust="spacingAndGlyphs" font-style="italic" stroke-width="0">Tak1fx/fxTnfr1-/-r2-/-</text>
</svg>
</body></html>
